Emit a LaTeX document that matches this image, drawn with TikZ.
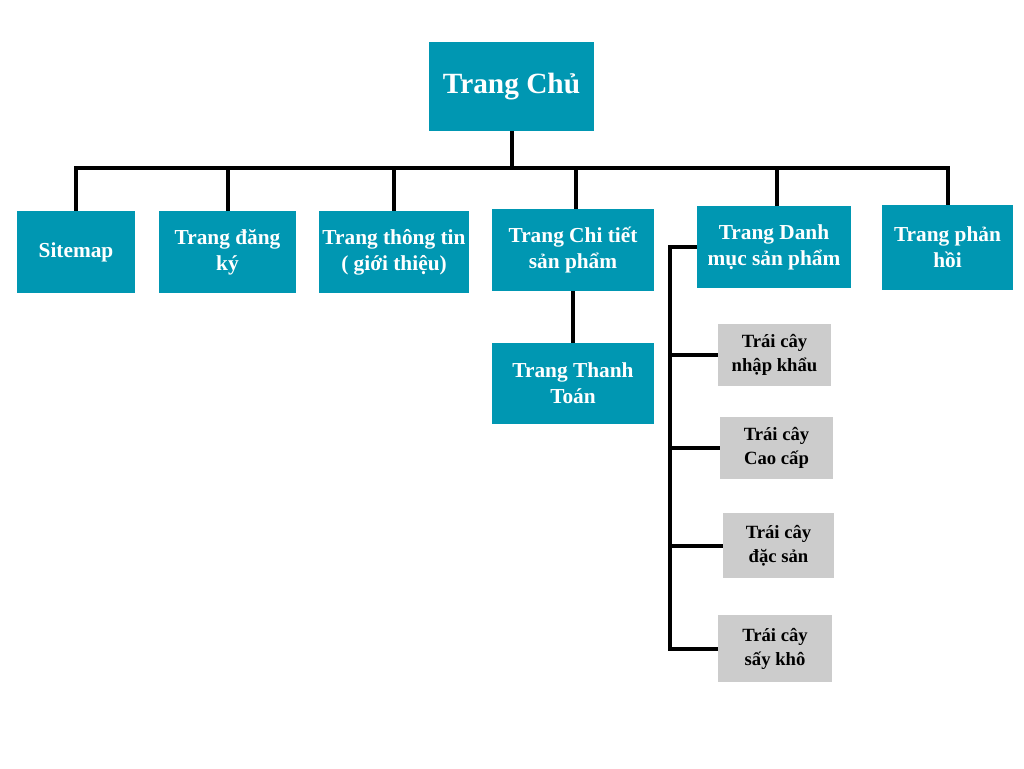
\documentclass[tikz,border=0pt]{standalone}
\usepackage{fontspec}
\setmainfont{Liberation Serif}
\definecolor{teal}{HTML}{0097B2}
\definecolor{graybox}{HTML}{CCCCCC}
\begin{document}
\begin{tikzpicture}[x=0.75pt,y=-0.75pt,
  tbox/.style={fill=teal,text=white,font=\bfseries\fontsize{16}{19.5}\selectfont,align=center,inner sep=0pt},
  gbox/.style={fill=graybox,text=black,font=\bfseries\fontsize{14}{18}\selectfont,align=center,inner sep=0pt},
  conn/.style={draw=black,line width=3pt}]
\useasboundingbox[fill=white] (0,0) rectangle (1024,768);
% top
\node[tbox,minimum width=123.75pt,minimum height=66.75pt,font=\bfseries\fontsize{22}{24}\selectfont] (root) at (511.5,86.5) {Trang Chủ};
% level 1
\node[tbox,minimum width=88.5pt,minimum height=61.5pt] (sitemap) at (76,252) {Sitemap};
\node[tbox,minimum width=102.75pt,minimum height=61.5pt] (dangky) at (227.5,252) {Trang đăng\\ký};
\node[tbox,minimum width=112.5pt,minimum height=61.5pt] (thongtin) at (394,252) {Trang thông tin\\( giới thiệu)};
\node[tbox,minimum width=121.5pt,minimum height=61.5pt] (chitiet) at (573,250) {Trang Chi tiết\\sản phẩm};
\node[tbox,minimum width=115.5pt,minimum height=61.5pt] (danhmuc) at (774,247) {Trang Danh\\mục sản phẩm};
\node[tbox,minimum width=98.25pt,minimum height=63.75pt] (phanhoi) at (947.5,247.5) {Trang phản\\hồi};
% level 2
\node[tbox,minimum width=121.5pt,minimum height=60.75pt] (thanhtoan) at (573,383.5) {Trang Thanh\\Toán};
\node[gbox,minimum width=84.75pt,minimum height=46.5pt] (nhapkhau) at (774.5,355) {Trái cây\\nhập khẩu};
\node[gbox,minimum width=84.75pt,minimum height=46.5pt] (caocap) at (776.5,448) {Trái cây\\Cao cấp};
\node[gbox,minimum width=83.25pt,minimum height=48.75pt] (dacsan) at (778.5,545.5) {Trái cây\\đặc sản};
\node[gbox,minimum width=85.5pt,minimum height=50.25pt] (saykho) at (775,648.5) {Trái cây\\sấy khô};
% connectors
\coordinate (bus) at (0,168);
\coordinate (spine) at (670,0);
\draw[conn] (root.south) -- (root.south |- bus);
\draw[conn] (sitemap.north) -- (sitemap.north |- bus) -- (phanhoi.north |- bus) -- (phanhoi.north);
\draw[conn] (dangky.north) -- (dangky.north |- bus);
\draw[conn] (thongtin.north) -- (thongtin.north |- bus);
\draw[conn] ([xshift=2.25pt]chitiet.north) -- ([xshift=2.25pt]chitiet.north |- bus);
\draw[conn] ([xshift=2.25pt]danhmuc.north) -- ([xshift=2.25pt]danhmuc.north |- bus);
\draw[conn] (chitiet.south) -- (thanhtoan.north);
\draw[conn] (danhmuc.west) -- (danhmuc.west -| spine) -- (saykho.west -| spine) -- (saykho.west);
\draw[conn] (nhapkhau.west -| spine) -- (nhapkhau.west);
\draw[conn] (caocap.west -| spine) -- (caocap.west);
\draw[conn] (dacsan.west -| spine) -- (dacsan.west);
\end{tikzpicture}
\end{document}
